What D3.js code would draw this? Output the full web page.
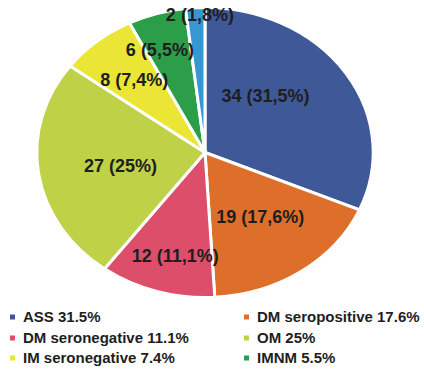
<!DOCTYPE html>
<html>
<head>
<meta charset="utf-8">
<script src="https://cdn.jsdelivr.net/npm/d3@7"></script>
<style>
  html, body { margin: 0; padding: 0; background: #fff; }
  svg { display: block; }
  text { font-family: "Liberation Sans", Arial, sans-serif; font-weight: bold; fill: #1e1e1e; }
</style>
</head>
<body>
<svg id="chart" width="424" height="369"></svg>
<script>
// Patient groups and counts
const categories = ["ASS", "DM seropositive", "DM seronegative", "OM", "IM seronegative", "IMNM", "Other"];
const counts = [34, 19, 12, 27, 8, 6, 2];
const percentLabels = ["31,5", "17,6", "11,1", "25", "7,4", "5,5", "1,8"];
const legendPercent = ["31.5", "17.6", "11.1", "25", "7.4", "5.5", "1.8"];
const colors = ["#3f5898", "#de6f2b", "#dc4e69", "#bfd146", "#ebe636", "#2c9d48", "#3697d2"];
const legendCount = 6;

// Layout
const W = 424, H = 369;
const cx = 205, cy = 152.5;
const ry = 145, stretch = 1.16;
// label placement: distance from the centre (share of radius) and turn from the slice middle (degrees)
const labelRadius = [0.53, 0.55, 0.735, 0.51, 0.655, 0.76, 0.95];
const labelTurn = [-14, -1.7, -2.7, -1.5, 0, -4, 1.5];

const svg = d3.select("#chart");

const pie = d3.pie().value(d => d).sort(null);
const arcs = pie(counts);
const arc = d3.arc().innerRadius(0).outerRadius(ry);

const pieG = svg.append("g")
  .attr("transform", `translate(${cx},${cy}) scale(${stretch},1)`);

pieG.selectAll("path")
  .data(arcs)
  .join("path")
  .attr("d", arc)
  .attr("fill", (d, i) => colors[i])
  .attr("stroke", "#fff")
  .attr("stroke-width", 3)
  .attr("vector-effect", "non-scaling-stroke");

// Value labels inside the slices
svg.append("g").selectAll("text")
  .data(arcs)
  .join("text")
  .attr("transform", (d, i) => {
    const a = (d.startAngle + d.endAngle) / 2 + labelTurn[i] * Math.PI / 180;
    const r = ry * labelRadius[i];
    const x = cx + Math.sin(a) * r * stretch;
    const y = cy - Math.cos(a) * r;
    return `translate(${x},${y})`;
  })
  .attr("text-anchor", "middle")
  .attr("dy", "0.36em")
  .attr("font-size", 18)
  .text((d, i) => `${counts[i]} (${percentLabels[i]}%)`);

// Legend: two columns, three rows
const legendItems = d3.range(legendCount);
const colX = [10, 244];
const rowY = [317, 338, 358];

const leg = svg.append("g").selectAll("g")
  .data(legendItems)
  .join("g")
  .attr("transform", i => `translate(${colX[i % 2]},${rowY[Math.floor(i / 2)]})`);

leg.append("rect")
  .attr("x", 0).attr("y", -2.5)
  .attr("width", 5).attr("height", 5)
  .attr("fill", i => colors[i]);

leg.append("text")
  .attr("x", 13)
  .attr("dy", "0.36em")
  .attr("font-size", 15)
  .text(i => `${categories[i]} ${legendPercent[i]}%`);
</script>
</body>
</html>
